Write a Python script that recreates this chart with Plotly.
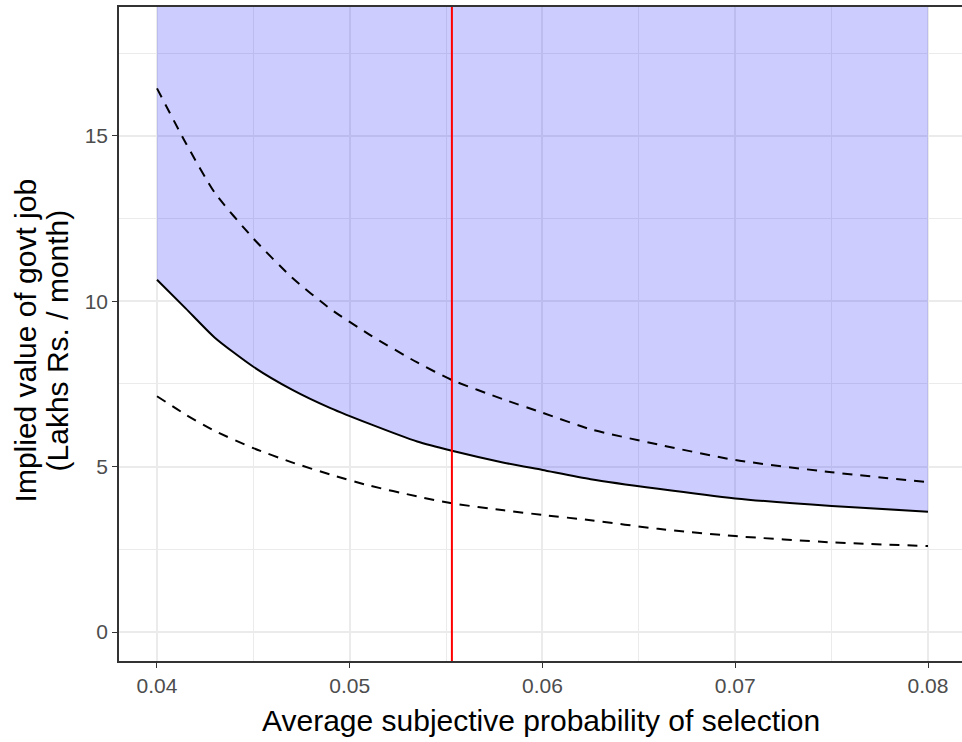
import plotly.graph_objects as go

# Data
prob = [0.040, 0.0415, 0.043, 0.045, 0.047, 0.049, 0.051, 0.0535, 0.0553,
        0.058, 0.060, 0.0625, 0.066, 0.070, 0.075, 0.080]
central = [10.65, 9.78, 8.90, 8.02, 7.33, 6.77, 6.30, 5.76, 5.48,
           5.12, 4.90, 4.62, 4.33, 4.04, 3.81, 3.64]
upper = [16.44, 14.78, 13.28, 11.90, 10.72, 9.77, 9.00, 8.15, 7.62,
         7.03, 6.63, 6.13, 5.67, 5.20, 4.83, 4.53]
lower = [7.13, 6.57, 6.08, 5.56, 5.13, 4.76, 4.43, 4.10, 3.89,
         3.68, 3.54, 3.38, 3.12, 2.90, 2.71, 2.60]
avg_prob = 0.0553

x_ticks = [0.04, 0.05, 0.06, 0.07, 0.08]
y_ticks = [0, 5, 10, 15]

x_range = [0.038029, 0.081764]
y_range = [-0.877, 18.90]

FONT = "Liberation Sans, Arial, sans-serif"

fig = go.Figure()

# shaded region above the central curve up to the panel top
fig.add_trace(go.Scatter(
    x=prob + [prob[-1], prob[0]],
    y=central + [y_range[1], y_range[1]],
    fill="toself", fillcolor="rgba(0,0,255,0.2)",
    line=dict(width=0), mode="lines", hoverinfo="skip", showlegend=False))

for ys in (lower, upper):
    fig.add_trace(go.Scatter(
        x=prob, y=ys, mode="lines",
        line=dict(color="black", width=2, dash="10px,8px", shape="spline", smoothing=0.6),
        showlegend=False))

fig.add_trace(go.Scatter(
    x=prob, y=central, mode="lines",
    line=dict(color="black", width=2, shape="spline", smoothing=0.6),
    showlegend=False))

fig.add_shape(type="line", x0=avg_prob, x1=avg_prob, y0=0, y1=1,
              xref="x", yref="paper", line=dict(color="red", width=2), layer="above")

axis_common = dict(
    showline=True, linecolor="#333333", linewidth=1.5,
    ticks="outside", ticklen=5, tickwidth=1.3, tickcolor="#333333",
    tickfont=dict(family=FONT, size=21, color="#4D4D4D"),
    showgrid=True, gridcolor="#EBEBEB", gridwidth=1.6,
    zeroline=False,
)

fig.update_xaxes(**axis_common, range=x_range, tickvals=x_ticks,
                 ticktext=[f"{v:.2f}" for v in x_ticks], mirror=True,
                 minor=dict(dtick=0.005, tick0=0, showgrid=True,
                            gridcolor="#EBEBEB", gridwidth=0.9, ticks=""))
fig.update_yaxes(**axis_common, range=y_range, tickvals=y_ticks,
                 ticktext=[str(v) for v in y_ticks],
                 minor=dict(dtick=2.5, tick0=0, showgrid=True,
                            gridcolor="#EBEBEB", gridwidth=0.9, ticks=""))

fig.add_annotation(text="Average subjective probability of selection",
                   xref="paper", yref="paper", x=0.5, y=-0.0917,
                   xanchor="center", yanchor="middle", showarrow=False,
                   font=dict(family=FONT, size=30, color="black"))
fig.add_annotation(text="Implied value of govt job",
                   xref="paper", yref="paper", x=-0.1110, y=0.4908,
                   xanchor="center", yanchor="middle", textangle=-90,
                   showarrow=False,
                   font=dict(family=FONT, size=30, color="black"))
fig.add_annotation(text="(Lakhs Rs. / month)",
                   xref="paper", yref="paper", x=-0.0730, y=0.4908,
                   xanchor="center", yanchor="middle", textangle=-90,
                   showarrow=False,
                   font=dict(family=FONT, size=30, color="black"))

fig.update_layout(
    width=962, height=742,
    margin=dict(l=119, r=0, t=7, b=81),
    plot_bgcolor="white", paper_bgcolor="white",
    showlegend=False,
)

fig.write_html("out.html",
               post_script="document.body.style.margin='0';"
                           "document.body.style.overflow='hidden';"
                           "document.documentElement.style.overflow='hidden';")
